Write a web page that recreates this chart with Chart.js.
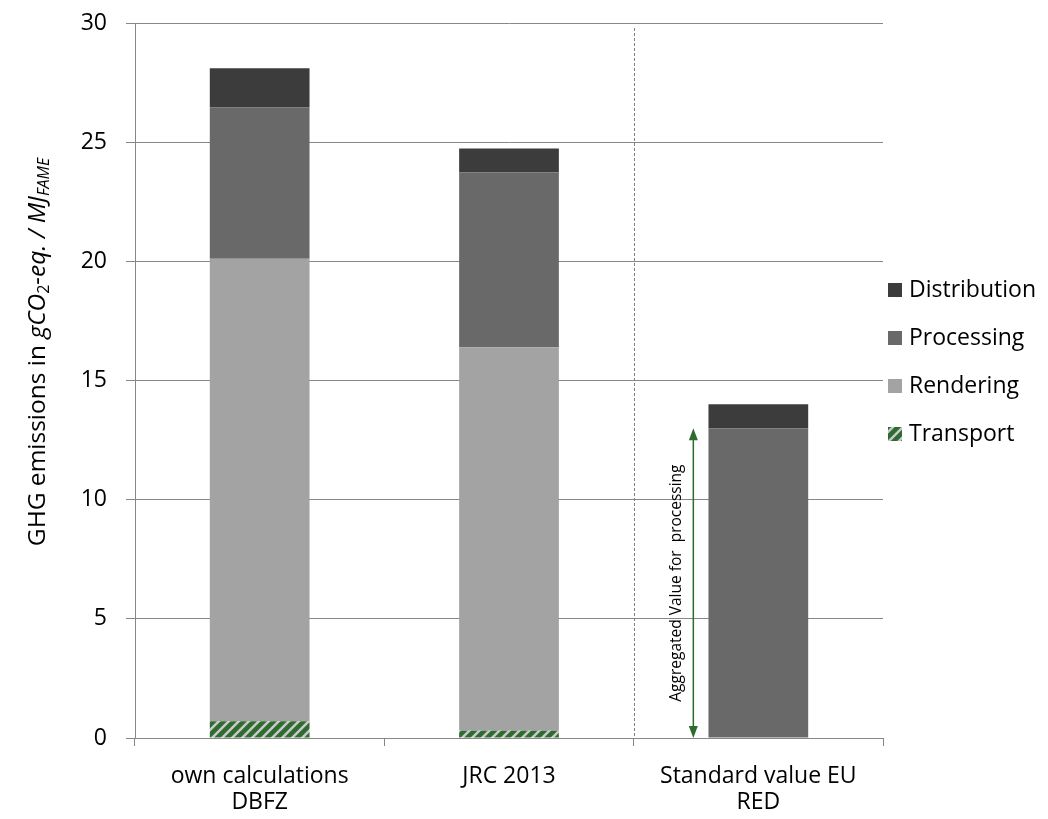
<!DOCTYPE html>
<html>
<head>
<meta charset="utf-8">
<script src="https://cdn.jsdelivr.net/npm/chart.js@4.4.1/dist/chart.umd.min.js"></script>
<style>
  body { margin: 0; background: #fff; }
  #wrap { width: 1048px; height: 819px; }
</style>
</head>
<body>
<div id="wrap"><canvas id="myChart" width="1048" height="819"></canvas></div>
<script>
// categories + stacked values (bottom to top)
var categories = [["own calculations", "DBFZ"], "JRC 2013", ["Standard value EU", "RED"]];
var transport = [0.7, 0.3, 0];
var rendering = [19.41, 16.09, 0];
var processing = [6.36, 7.34, 13.0];
var distribution = [1.63, 1.0, 1.0];
var yTicks = [0, 5, 10, 15, 20, 25, 30];

var FONT = '"Open Sans", sans-serif';
var gridCol = '#878787';
var green = '#2e6b2e';

// striped fill for transport
function stripes() {
    var c = document.createElement('canvas');
    c.width = 10; c.height = 10;
    var g = c.getContext('2d');
    g.fillStyle = green;
    g.fillRect(0, 0, 10, 10);
    g.strokeStyle = '#c9c9c9';
    g.lineWidth = 2.5;
    g.beginPath();
    g.moveTo(-2, 12); g.lineTo(12, -2);
    g.moveTo(-7, 7); g.lineTo(7, -7);
    g.moveTo(3, 17); g.lineTo(17, 3);
    g.stroke();
    return g.createPattern(c, 'repeat');
}
var transportFill = stripes();

var extras = {
    id: 'extras',
    afterDraw: function (chart) {
        var ctx = chart.ctx;
        var x = chart.scales.x, y = chart.scales.y;
        var area = chart.chartArea;
        ctx.save();

        // dashed separator between 2nd and 3rd category
        var sx = Math.round((x.getPixelForValue(1) + x.getPixelForValue(2)) / 2) + 0.5;
        ctx.strokeStyle = '#808080';
        ctx.lineWidth = 1;
        ctx.setLineDash([3, 2]);
        ctx.beginPath();
        ctx.moveTo(sx, area.top + 5);
        ctx.lineTo(sx, area.bottom);
        ctx.stroke();
        ctx.setLineDash([]);

        // double arrow next to the standard value bar
        var ax = x.getPixelForValue(2) - 65;
        var aTop = y.getPixelForValue(processing[2]);
        var aBot = y.getPixelForValue(0);
        ctx.strokeStyle = green;
        ctx.fillStyle = green;
        ctx.lineWidth = 1.5;
        ctx.beginPath();
        ctx.moveTo(ax, aTop + 10);
        ctx.lineTo(ax, aBot - 10);
        ctx.stroke();
        ctx.beginPath();
        ctx.moveTo(ax, aTop); ctx.lineTo(ax - 4.5, aTop + 12); ctx.lineTo(ax + 4.5, aTop + 12);
        ctx.closePath(); ctx.fill();
        ctx.beginPath();
        ctx.moveTo(ax, aBot); ctx.lineTo(ax - 4.5, aBot - 12); ctx.lineTo(ax + 4.5, aBot - 12);
        ctx.closePath(); ctx.fill();

        ctx.save();
        ctx.translate(ax - 17, (aTop + aBot) / 2);
        ctx.rotate(-Math.PI / 2);
        ctx.fillStyle = '#000';
        ctx.font = '15.5px ' + FONT;
        ctx.textAlign = 'center';
        ctx.textBaseline = 'middle';
        ctx.fillText('Aggregated Value for  processing', 0, 0);
        ctx.restore();

        // y axis title with subscripts
        var parts = [
            { t: 'GHG emissions in ', f: '24.5px ' + FONT, dy: 0 },
            { t: 'gCO', f: 'italic 24.5px ' + FONT, dy: 0 },
            { t: '2', f: '16px ' + FONT, dy: 6 },
            { t: '-eq. / MJ', f: 'italic 24.5px ' + FONT, dy: 0 },
            { t: 'FAME', f: 'italic 16px ' + FONT, dy: 6 }
        ];
        var total = 0;
        parts.forEach(function (p) { ctx.font = p.f; p.w = ctx.measureText(p.t).width; total += p.w; });
        ctx.save();
        ctx.translate(38, 352);
        ctx.rotate(-Math.PI / 2);
        ctx.fillStyle = '#000';
        ctx.textAlign = 'left';
        ctx.textBaseline = 'middle';
        var px = -total / 2;
        parts.forEach(function (p) {
            ctx.font = p.f;
            ctx.fillText(p.t, px, p.dy);
            px += p.w;
        });
        ctx.restore();

        // legend, top item = top of stack
        var ds = chart.data.datasets.slice().reverse();
        ctx.font = '23px ' + FONT;
        ctx.textBaseline = 'middle';
        ctx.textAlign = 'left';
        ds.forEach(function (d, i) {
            var cy = 290 + i * 48;
            ctx.fillStyle = d.backgroundColor;
            ctx.fillRect(888, cy - 7, 14, 14);
            ctx.fillStyle = '#000';
            ctx.fillText(d.label, 909, cy);
        });

        ctx.restore();
    }
};

var ctx = document.getElementById('myChart');
new Chart(ctx, {
    type: 'bar',
    data: {
        labels: categories,
        datasets: [
            { label: 'Transport', data: transport, backgroundColor: transportFill },
            { label: 'Rendering', data: rendering, backgroundColor: '#a3a3a3' },
            { label: 'Processing', data: processing, backgroundColor: '#696969' },
            { label: 'Distribution', data: distribution, backgroundColor: '#3c3c3c' }
        ]
    },
    options: {
        responsive: false,
        animation: false,
        layout: { padding: { top: 23, right: 165, left: 0, bottom: 0 } },
        datasets: { bar: { barPercentage: 0.4, categoryPercentage: 1, borderWidth: 0 } },
        plugins: {
            legend: { display: false },
            tooltip: { enabled: false }
        },
        scales: {
            x: {
                stacked: true,
                grid: { offset: true, drawOnChartArea: false, tickLength: 8, color: gridCol },
                border: { color: gridCol },
                ticks: { color: '#000', font: { family: FONT, size: 23, lineHeight: 1.15 }, padding: 17, maxRotation: 0 },
                afterFit: function (s) { s.height = 81; s.paddingLeft = 0; s.paddingRight = 0; }
            },
            y: {
                stacked: true,
                min: 0,
                max: 30,
                afterBuildTicks: function (s) { s.ticks = yTicks.map(function (v) { return { value: v }; }); },
                grid: { color: gridCol, tickLength: 9 },
                border: { color: gridCol },
                ticks: { color: '#000', font: { family: FONT, size: 23 }, padding: 19 },
                afterFit: function (s) { s.width = 135; s.paddingTop = 0; s.paddingBottom = 0; }
            }
        }
    },
    plugins: [extras]
});
</script>
</body>
</html>
